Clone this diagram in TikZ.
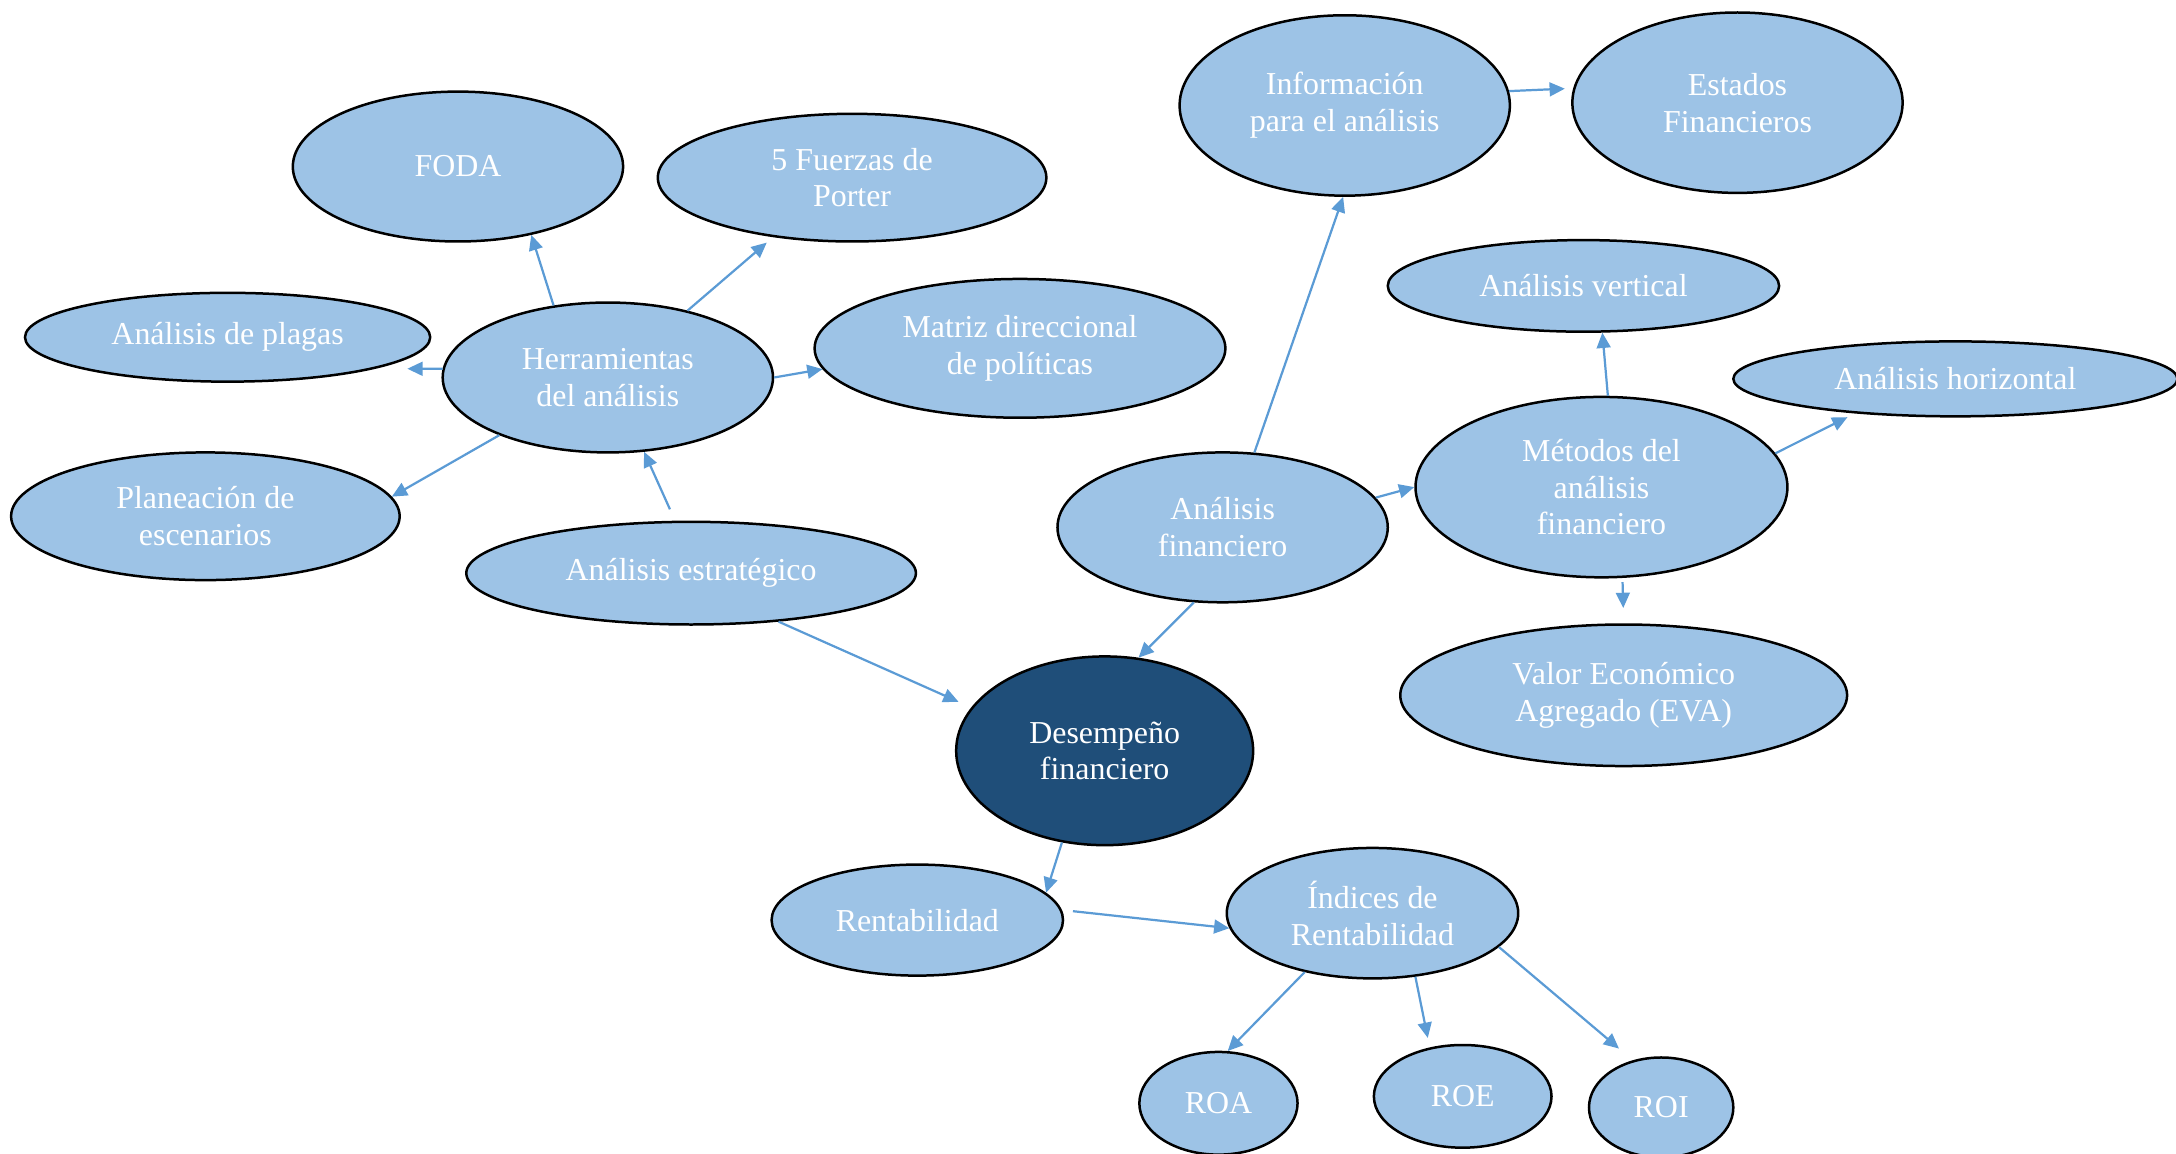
\documentclass[tikz,border=0pt]{standalone}
\usepackage{fontspec}
\setmainfont{Liberation Serif}
\usetikzlibrary{shapes.geometric,arrows.meta}
\definecolor{bubblue}{HTML}{9DC3E6}
\definecolor{bubdark}{HTML}{1F4E79}
\definecolor{arrblue}{HTML}{5B9BD5}

\begin{document}
\begin{tikzpicture}[x=1pt, y=-1pt,
    bub/.style={ellipse, draw=black, line width=1.8pt, fill=bubblue, text=white, inner sep=0pt, align=center, font=\fontsize{23}{26.5}\selectfont},
    bubdk/.style={bub, fill=bubdark},
    arr/.style={draw=arrblue, line width=1.6pt, -{Triangle[length=11pt, width=10pt]}}]
    \useasboundingbox (0,0) rectangle (1568,831);
    % herramientas del análisis estratégico
    \node[bub, minimum width=238, minimum height=108] (foda) at (330,120) {FODA};
    \node[bub, minimum width=280, minimum height=92] (porter) at (614,128) {5 Fuerzas de\\Porter};
    \node[bub, minimum width=292, minimum height=64] (plagas) at (164,243) {Análisis de plagas};
    \node[bub, minimum width=238, minimum height=108] (herr) at (438,272) {Herramientas\\del análisis};
    \node[bub, minimum width=296, minimum height=100] (matriz) at (735,251) {Matriz direccional\\de políticas};
    \node[bub, minimum width=280, minimum height=92] (plan) at (148,372) {Planeación de\\escenarios};
    \node[bub, minimum width=324, minimum height=74] (estr) at (498,413) {Análisis estratégico};
    % análisis financiero
    \node[bub, minimum width=238, minimum height=130] (info) at (969,76) {Información\\para el análisis};
    \node[bub, minimum width=238, minimum height=130] (edos) at (1252,74) {Estados\\Financieros};
    \node[bub, minimum width=282, minimum height=66] (vert) at (1141,206) {Análisis vertical};
    \node[bub, minimum width=320, minimum height=54] (horiz) at (1409,273) {Análisis horizontal};
    \node[bub, minimum width=268, minimum height=130] (met) at (1154,351) {Métodos del\\análisis\\financiero};
    \node[bub, minimum width=238, minimum height=108] (fin) at (881,380) {Análisis\\financiero};
    \node[bub, minimum width=322, minimum height=102] (eva) at (1170,501) {Valor Económico\\Agregado (EVA)};
    % desempeño y rentabilidad
    \node[bubdk, minimum width=214, minimum height=136] (des) at (796,541) {Desempeño\\financiero};
    \node[bub, minimum width=210, minimum height=80] (rent) at (661,663) {Rentabilidad};
    \node[bub, minimum width=210, minimum height=94] (ind) at (989,658) {Índices de\\Rentabilidad};
    \node[bub, minimum width=114, minimum height=74] (roa) at (878,795) {ROA};
    \node[bub, minimum width=128, minimum height=74] (roe) at (1054,790) {ROE};
    \node[bub, minimum width=104, minimum height=72] (roi) at (1197,798) {ROI};
    % flechas
    \draw[arr] (herr.127) -- (foda.-43);
    \draw[arr, shorten >=6pt] (herr.40) -- (porter.-143);
    \draw[arr, shorten >=23pt] (herr.177) -- (plagas.-12.8);
    \draw[arr] (herr.-0.5) -- (matriz.-174);
    \draw[arr] (herr.-152) -- (plan.6.5);
    \draw[arr, shorten <=9pt] (estr.107) -- (herr.-64);
    \draw[arr, shorten >=10pt] (estr.-29) -- (des.162);
    \draw[arr] (fin.-111) -- (des.70);
    \draw[arr] (fin.67) -- (info.-91);
    \draw[arr] (fin.11) -- (met.180);
    \draw[arr, shorten >=6pt] (info.5.4) -- (edos.175.6);
    \draw[arr] (met.86) -- (vert.-68.5);
    \draw[arr, shorten >=6pt] (met.11) -- (horiz.-161);
    \draw[arr, shorten <=3pt, shorten >=11pt] (met.-77) -- (eva.90);
    \draw[arr] (des.-115) -- (rent.12.5);
    \draw[arr, shorten <=8pt] (rent.4.4) -- (ind.-174.6);
    \draw[arr] (ind.-139) -- (roa.80);
    \draw[arr, shorten >=7pt] (ind.-56) -- (roe.124);
    \draw[arr, shorten >=13pt] (ind.-15) -- (roi.121);
\end{tikzpicture}
\end{document}
